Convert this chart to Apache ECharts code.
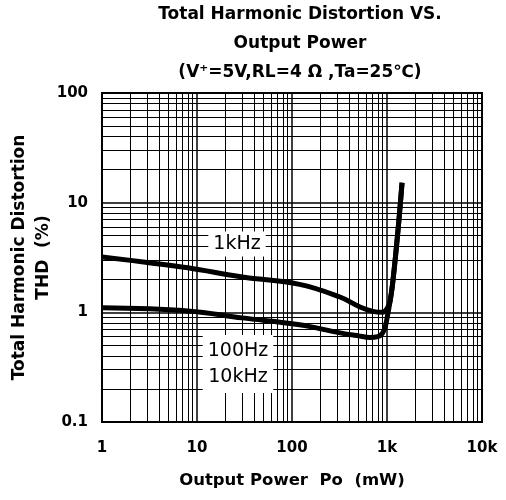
<!DOCTYPE html>
<html>
<head>
<meta charset="utf-8">
<script src="https://cdn.jsdelivr.net/npm/echarts@6/dist/echarts.min.js"></script>
<style>
    html, body { margin: 0; padding: 0; background: #fff; }
    #chart { width: 506px; height: 500px; }
</style>
</head>
<body>
<div id="chart"></div>
<script>
// 1kHz curve
const power1k = [1, 3, 8, 30, 120, 320, 520, 710, 900, 1000, 1075, 1157, 1306, 1440];
const thd1k = [3.2, 2.85, 2.55, 2.1, 1.8, 1.38, 1.12, 1.02, 1.0, 1.08, 1.25, 1.97, 5.6, 15.2];
// 100Hz / 10kHz curve
const powerLow = [1, 8, 30, 120, 320, 500, 660, 800, 890, 950, 1000, 1075, 1157, 1306, 1440];
const thdLow = [1.1, 1.03, 0.89, 0.77, 0.65, 0.61, 0.59, 0.6, 0.64, 0.72, 0.88, 1.25, 1.97, 5.6, 15.2];

const xTickLabels = { 1: '1', 10: '10', 100: '100', 1000: '1k', 10000: '10k' };
const yTickLabels = { 0.1: '0.1', 1: '1', 10: '10', 100: '100' };

// log paper minor lines
const xMinorLines = [2, 3, 4, 5, 6, 7, 8, 9, 20, 30, 40, 50, 60, 70, 80, 90,
    200, 300, 400, 500, 600, 700, 800, 900, 2000, 3000, 4000, 5000, 6000, 7000, 8000, 9000];
const yMinorLines = [0.2, 0.3, 0.4, 0.5, 0.6, 0.7, 0.8, 0.9, 2, 3, 4, 5, 6, 7, 8, 9,
    20, 30, 40, 50, 60, 70, 80, 90];

const FONT = 'DejaVu Sans';

function toPairs(xs, ys) {
    return xs.map((x, i) => [x, ys[i]]);
}

const chart = echarts.init(document.getElementById('chart'));

const gridLines = [];
xMinorLines.forEach((v) => gridLines.push({ xAxis: v }));
yMinorLines.forEach((v) => gridLines.push({ yAxis: v }));

chart.setOption({
    animation: false,
    title: {
        text: 'Total Harmonic Distortion VS.\nOutput Power\n(V⁺=5V,RL=4 Ω ,Ta=25℃)',
        left: 300,
        top: 0,
        padding: 0,
        textAlign: 'center',
        textStyle: {
            fontFamily: FONT,
            fontSize: 17,
            fontWeight: 'bold',
            color: '#000',
            lineHeight: 29
        }
    },
    grid: {
        left: 102,
        right: 24,
        top: 93,
        bottom: 78,
        outerBoundsMode: 'none',
        containLabel: false,
        show: true,
        borderColor: '#000',
        borderWidth: 2,
        backgroundColor: '#fff'
    },
    xAxis: {
        type: 'log',
        logBase: 10,
        min: 1,
        max: 10000,
        name: 'Output Power  Po  (mW)',
        nameLocation: 'middle',
        nameGap: 50,
        nameMoveOverlap: false,
        nameTextStyle: { fontFamily: FONT, fontSize: 16.5, fontWeight: 'bold', color: '#000' },
        axisLine: { lineStyle: { color: '#000', width: 2 } },
        axisTick: { show: false },
        axisLabel: {
            margin: 19,
            fontFamily: FONT,
            fontSize: 15,
            fontWeight: 'bold',
            color: '#000',
            formatter: (v) => xTickLabels[Math.round(v)] || ''
        },
        splitLine: { show: true, lineStyle: { color: '#000', width: 1.5 } }
    },
    yAxis: {
        type: 'log',
        logBase: 10,
        min: 0.1,
        max: 100,
        name: 'Total Harmonic Distortion\nTHD  (%)',
        nameLocation: 'middle',
        nameGap: 46,
        nameMoveOverlap: false,
        nameRotate: 90,
        nameTextStyle: { fontFamily: FONT, fontSize: 17, fontWeight: 'bold', color: '#000', lineHeight: 24 },
        axisLine: { lineStyle: { color: '#000', width: 2 } },
        axisTick: { show: false },
        axisLabel: {
            margin: 14,
            fontFamily: FONT,
            fontSize: 15,
            fontWeight: 'bold',
            color: '#000',
            formatter: (v) => yTickLabels[+v.toPrecision(3)] || ''
        },
        splitLine: { show: true, lineStyle: { color: '#000', width: 1.5 } }
    },
    graphic: [
        {
            type: 'text',
            x: 237,
            y: 244,
            z: 100,
            style: {
                text: '1kHz',
                font: '19px "DejaVu Sans"',
                fill: '#000',
                align: 'center',
                verticalAlign: 'middle',
                backgroundColor: '#fff',
                padding: [3, 5]
            }
        },
        {
            type: 'text',
            x: 238,
            y: 364,
            z: 100,
            style: {
                text: '100Hz\n10kHz',
                font: '19px "DejaVu Sans"',
                lineHeight: 26,
                fill: '#000',
                align: 'center',
                verticalAlign: 'middle',
                backgroundColor: '#fff',
                padding: [3, 5]
            }
        }
    ],
    series: [
        {
            name: 'grid',
            type: 'line',
            data: [[1, 1]],
            showSymbol: false,
            lineStyle: { opacity: 0 },
            silent: true,
            z: 1,
            markLine: {
                silent: true,
                symbol: 'none',
                label: { show: false },
                lineStyle: { color: '#000', width: 1, type: 'solid' },
                data: gridLines
            }
        },
        {
            name: '1kHz',
            type: 'line',
            data: toPairs(power1k, thd1k),
            showSymbol: false,
            smooth: 0.4,
            lineStyle: { color: '#000', width: 5 },
            z: 5
        },
        {
            name: '100Hz/10kHz',
            type: 'line',
            data: toPairs(powerLow, thdLow),
            showSymbol: false,
            smooth: 0.4,
            lineStyle: { color: '#000', width: 5 },
            z: 5
        }
    ]
});
</script>
</body>
</html>
